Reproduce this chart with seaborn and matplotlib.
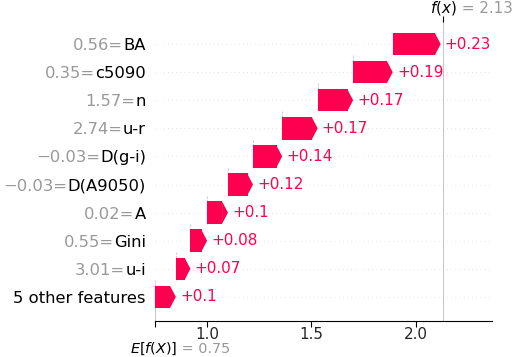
import matplotlib
matplotlib.use("Agg")
import matplotlib.pyplot as plt
import numpy as np
import pandas as pd
import seaborn as sns

# ==========================
# Datos (de arriba hacia abajo)
# ==========================
feature_names = ["BA", "c5090", "n", "u-r", "D(g-i)", "D(A9050)", "A", "Gini", "u-i",
                 "5 other features"]
feature_values = ["0.56", "0.35", "1.57", "2.74", "\u22120.03", "\u22120.03", "0.02", "0.55",
                  "3.01", ""]
shap_values = [0.23, 0.19, 0.17, 0.17, 0.14, 0.12, 0.10, 0.08, 0.07, 0.10]
base_value = 0.75
fx_value = 2.13
x_ticks = [1.0, 1.5, 2.0]

RED = "#ff0051"
GRAY = "#999999"

# inicio de cada barra: acumulado desde el valor base (de abajo hacia arriba)
vals = np.array(shap_values)
ends = base_value + np.cumsum(vals[::-1])[::-1]
starts = ends - vals

sns.set_style("white")
plt.rcParams["font.family"] = ["DejaVu Sans"]

fig = plt.figure(figsize=(5.15, 3.57), dpi=100)
ax = fig.add_axes([155 / 515, 1 - 321 / 357, (492 - 155) / 515, (321 - 22) / 357])

xmin, xmax = 0.75, 2.366
head = 5.5 / 208.4   # largo de la punta en unidades de datos
bar_h = 0.8

body = np.maximum(vals - head, 0)
df = pd.DataFrame({"feature": feature_names, "body": body})
sns.barplot(data=df, x="body", y="feature", order=feature_names, left=starts,
            color=RED, width=bar_h, saturation=1, linewidth=0, ax=ax, zorder=3)

# puntas de flecha, etiquetas y lineas guia
for i, (s, e) in enumerate(zip(starts, ends)):
    hl = min(head, e - s)
    ax.fill([e - hl - 0.002, e, e - hl - 0.002], [i - bar_h / 2, i, i + bar_h / 2],
            color=RED, lw=0, zorder=3)
    ax.annotate(f"+{shap_values[i]:g}", xy=(e, i), xytext=(3, 0), textcoords="offset points",
                ha="left", va="center", color=RED, fontsize=10.9)
    ax.axhline(i, color="#cccccc", lw=0.5, dashes=(1, 5), zorder=-1)
    if i > 0:
        ax.plot([s, s], [i - 1 + 0.4, i + 0.4], color="#bbbbbb", ls="--", lw=0.5, zorder=1)

ax.axvline(fx_value, 0, 1, color="#bbbbbb", ls="-", lw=0.6, zorder=0)
ax.axvline(base_value, 0, 1 / 10, color="#bbbbbb", ls="-", lw=0.6, zorder=0)

ax.set_xlim(xmin, xmax)
ax.set_ylim(9 + 24 / 28.0, -22 / 28.0)
ax.set_xticks([base_value] + x_ticks)
ax.set_xticklabels([""] + [f"{t:.1f}" for t in x_ticks], fontsize=10.9)
ax.tick_params(axis="x", length=4, width=0.8, color="black", direction="out", bottom=True, pad=0)
ax.set_xlabel("")
ax.set_ylabel("")

# etiquetas del eje y: nombre negro, valor gris a su izquierda
ax.set_yticks(range(len(feature_names)))
ax.set_yticklabels(feature_names, fontsize=11.8, color="black")
ax.tick_params(axis="y", length=0, pad=6.5)
for lbl, v in zip(ax.get_yticklabels(), feature_values):
    if v:
        ax.annotate(f"{v}=", xy=(0, 0.5), xycoords=lbl, ha="right", va="center",
                    fontsize=11.8, color=GRAY, annotation_clip=False)

ax_top = ax.twiny()
ax_top.set_xlim(ax.get_xlim())
ax_top.set_xticks([fx_value])
ax_top.set_xticklabels([""])
ax_top.tick_params(axis="x", length=4, width=0.8, color="black", top=True)

for a in (ax, ax_top):
    for side in ("top", "right", "left", "bottom"):
        a.spines[side].set_visible(False)
ax.spines["bottom"].set_visible(True)
ax.spines["bottom"].set_color("black")
ax.spines["bottom"].set_linewidth(0.8)

# etiquetas f(x) y E[f(X)]
t1 = ax.annotate("$f(x)$", xy=(fx_value, 1), xycoords=("data", "axes fraction"),
                 xytext=(-9, 10), textcoords="offset points", ha="left", va="center",
                 fontsize=10.9, color="black")
ax.annotate(f" = {fx_value}", xy=(1, 0.5), xycoords=t1, ha="left", va="center",
            fontsize=10.9, color=GRAY)
t2 = ax.annotate("$E[f(X)]$", xy=(base_value, 0), xycoords=("data", "axes fraction"),
                 xytext=(-18, -20), textcoords="offset points", ha="left", va="center",
                 fontsize=10.4, color="black")
ax.annotate(f" = {base_value}", xy=(1, 0.5), xycoords=t2, ha="left", va="center",
            fontsize=10.4, color=GRAY)

fig.savefig("out.png", dpi=100)
